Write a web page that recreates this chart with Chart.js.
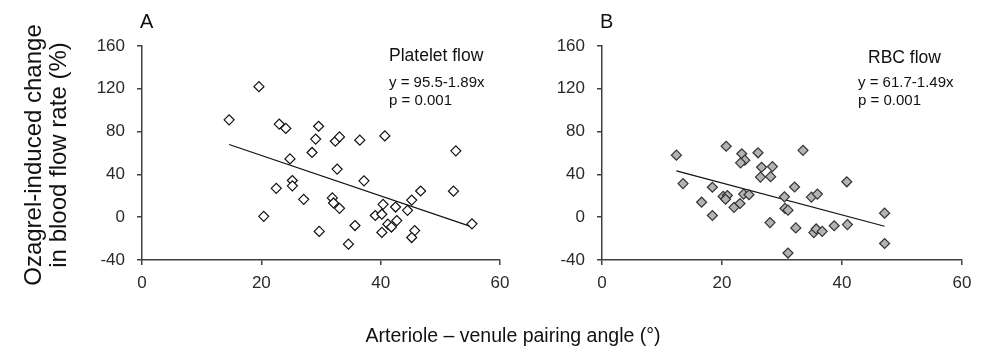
<!DOCTYPE html>
<html>
<head>
<meta charset="utf-8">
<script src="https://cdn.jsdelivr.net/npm/chart.js@4/dist/chart.umd.min.js"></script>
<style>
  html, body { margin:0; padding:0; background:#fff; }
  body { width:984px; height:359px; position:relative; overflow:hidden; font-family:"Liberation Sans", Arial, sans-serif; color:#111; }
  .cv { position:absolute; top:0; }
  .txt { position:absolute; white-space:nowrap; }
</style>
</head>
<body>
<div class="cv" style="left:0;width:530px;height:359px;"><canvas id="chartA"></canvas></div>
<div class="cv" style="left:530px;width:454px;height:359px;"><canvas id="chartB"></canvas></div>

<div class="txt" style="left:140px;top:9px;font-size:20px;line-height:24px;">A</div>
<div class="txt" style="left:600px;top:9px;font-size:20px;line-height:24px;">B</div>
<div class="txt" style="left:-105px;top:130px;width:300px;height:50px;font-size:24px;line-height:25px;text-align:center;transform:rotate(-90deg);">Ozagrel-induced change<br>in blood flow rate (%)</div>
<div class="txt" style="left:313px;top:322px;width:400px;text-align:center;font-size:19.5px;line-height:26px;">Arteriole – venule pairing angle (°)</div>

<div class="txt" style="left:389px;top:45px;font-size:17.5px;line-height:20px;">Platelet flow</div>
<div class="txt" style="left:389px;top:73px;font-size:15px;line-height:18px;">y = 95.5-1.89x</div>
<div class="txt" style="left:389px;top:91px;font-size:15px;line-height:18px;">p = 0.001</div>
<div class="txt" style="left:868px;top:47px;font-size:17.5px;line-height:20px;">RBC flow</div>
<div class="txt" style="left:858px;top:73px;font-size:15px;line-height:18px;">y = 61.7-1.49x</div>
<div class="txt" style="left:858px;top:91px;font-size:15px;line-height:18px;">p = 0.001</div>

<script>
// Panel A: platelet flow
const plateletAngle  = [14.6, 19.6, 23.0, 24.1, 29.6, 29.1, 32.4, 33.1, 36.5, 40.7, 52.6, 24.8, 28.5, 32.7, 37.2, 25.2, 25.2, 22.5, 27.1, 31.9, 32.1, 33.1, 20.4, 29.7, 35.7, 34.6, 39.1, 40.2, 40.4, 40.2, 41.2, 41.8, 42.7, 42.5, 44.5, 45.2, 46.7, 45.7, 45.2, 52.2, 55.3];
const plateletChange = [91, 122, 87, 83, 85, 73, 71, 75, 72, 76, 62, 54.5, 60.5, 45, 34, 34.3, 29.3, 27, 16.7, 18, 13.3, 8.3, 0.8, -13.3, -7.8, -25.2, 1.6, 2.8, 12, -14.2, -6.5, -9.2, -3.2, 9.5, 6.4, 16, 24.5, -12.5, -19, 24.3, -6.2];
const plateletFit = { intercept: 95.5, slope: -1.89 };

// Panel B: RBC flow
const rbcAngle  = [12.4, 13.5, 20.7, 23.3, 23.8, 23.1, 26.0, 26.6, 28.4, 26.4, 28.1, 33.5, 18.4, 16.6, 18.4, 20.2, 20.9, 20.6, 22.0, 23.0, 23.6, 24.5, 30.4, 32.1, 30.5, 31.0, 28.0, 32.3, 34.9, 35.9, 35.3, 35.7, 36.7, 38.7, 40.9, 40.8, 31.0, 47.1, 47.1];
const rbcChange = [58, 31.4, 66.3, 59.3, 53.3, 50.8, 60.2, 46.7, 47.3, 37.5, 37.9, 62.5, 28, 14, 1.6, 19.4, 20.3, 16.8, 9.2, 12.8, 21.6, 21, 19, 28.2, 8.2, 6.6, -5, -10, 18.8, 21.6, -14.4, -11, -13.2, -8, -6.9, 33.1, -33.5, 3.8, -24.6];
const rbcFit = { intercept: 61.7, slope: -1.49 };

// Axes
const xTicks = [0, 20, 40, 60];
const yTicks = [-40, 0, 40, 80, 120, 160];

const AXIS = '#404040';
const TICKCOL = '#2a2a2a';
const FONT = '"Liberation Sans", Arial, sans-serif';

function pts(xs, ys) { return xs.map((x, i) => ({ x: x, y: ys[i] })); }
function fitLine(xs, fit) {
  const lo = Math.min(...xs), hi = Math.max(...xs);
  return [lo, hi].map(x => ({ x: x, y: fit.intercept + fit.slope * x }));
}

function makeChart(id, xs, ys, fit, fill, stroke, yWidth, padRight) {
  new Chart(document.getElementById(id), {
    type: 'scatter',
    data: {
      datasets: [
        { data: fitLine(xs, fit), showLine: true, borderColor: '#111', borderWidth: 1.2,
          pointRadius: 0, fill: false, order: 2 },
        { data: pts(xs, ys), pointStyle: 'rectRot', pointRadius: 5, borderWidth: 1.2,
          backgroundColor: fill, borderColor: stroke, order: 1 }
      ]
    },
    options: {
      responsive: true, maintainAspectRatio: false, animation: false, events: [],
      layout: { padding: { left: 0, top: 46, right: padRight, bottom: 59 } },
      plugins: { legend: { display: false }, tooltip: { enabled: false } },
      scales: {
        x: {
          type: 'linear', min: 0, max: 60,
          afterBuildTicks: s => { s.ticks = xTicks.map(v => ({ value: v })); },
          afterFit: s => { s.height = 40; },
          ticks: { font: { family: FONT, size: 17 }, color: TICKCOL, padding: 8, maxRotation: 0 },
          grid: { drawOnChartArea: false, drawTicks: true, tickLength: 5, color: AXIS, lineWidth: 1.5 },
          border: { display: true, color: AXIS, width: 1.5 }
        },
        y: {
          type: 'linear', min: -40, max: 160,
          afterBuildTicks: s => { s.ticks = yTicks.map(v => ({ value: v })); },
          afterFit: s => { s.width = yWidth; },
          ticks: { font: { family: FONT, size: 17 }, color: TICKCOL, padding: 12 },
          grid: { drawOnChartArea: false, drawTicks: true, tickLength: 5, color: AXIS, lineWidth: 1.5 },
          border: { display: true, color: AXIS, width: 1.5 }
        }
      }
    }
  });
}

makeChart('chartA', plateletAngle, plateletChange, plateletFit, '#ffffff', '#111111', 142, 30);
makeChart('chartB', rbcAngle, rbcChange, rbcFit, '#b3b3b3', '#333333', 72, 22);
</script>
</body>
</html>
